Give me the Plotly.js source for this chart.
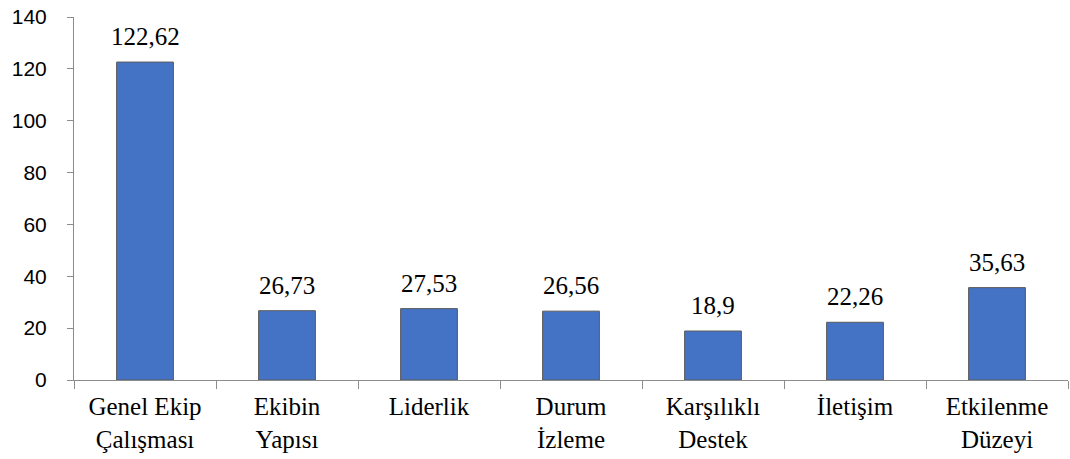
<!DOCTYPE html>
<html>
<head>
<meta charset="utf-8">
<script src="https://cdn.plot.ly/plotly-3.0.1.min.js"></script>
<style>
  html, body { margin: 0; padding: 0; background: #fff; }
  #chart { width: 1070px; height: 459px; }
</style>
</head>
<body>
<div id="chart"></div>
<script>
let categories = ['Genel Ekip<br>Çalışması', 'Ekibin<br>Yapısı', 'Liderlik', 'Durum<br>İzleme',
                  'Karşılıklı<br>Destek', 'İletişim', 'Etkilenme<br>Düzeyi'];
let values = [122.62, 26.73, 27.53, 26.56, 18.9, 22.26, 35.63];
let valueLabels = ['122,62', '26,73', '27,53', '26,56', '18,9', '22,26', '35,63'];
let yTicks = [0, 20, 40, 60, 80, 100, 120, 140];

let labelFont = 'Liberation Serif';
let tickFont = 'Liberation Sans';
let axisGray = '#8c8c8c';

var data = [{
    type: 'bar',
    x: categories,
    y: values,
    marker: { color: '#4472C4', line: { color: '#5b5b5b', width: 1 } },
    hoverinfo: 'none'
}];

// value labels above each bar
let labelNotes = [];
for (let i = 0; i < categories.length; i++) {
    labelNotes.push({
        x: categories[i],
        y: values[i],
        text: valueLabels[i],
        showarrow: false,
        yanchor: 'bottom',
        yshift: 10,
        font: { family: labelFont, size: 25, color: '#000' }
    });
}

var layout = {
    width: 1070,
    height: 459,
    margin: { l: 74, r: 2, t: 17, b: 79 },
    paper_bgcolor: '#fff',
    plot_bgcolor: '#fff',
    showlegend: false,
    bargap: 0.6,
    annotations: labelNotes,
    xaxis: {
        type: 'category',
        showline: true,
        linecolor: axisGray,
        linewidth: 1,
        ticks: 'outside',
        tickson: 'boundaries',
        ticklen: 8,
        tickcolor: axisGray,
        showgrid: false,
        ticklabelstandoff: 4,
        tickfont: { family: labelFont, size: 25, color: '#000' }
    },
    yaxis: {
        range: [0, 140],
        tickvals: yTicks,
        ticktext: yTicks.map(String),
        showline: true,
        linecolor: axisGray,
        linewidth: 1,
        ticks: 'outside',
        ticklen: 6,
        tickcolor: axisGray,
        showgrid: false,
        zeroline: false,
        ticklabelstandoff: 16,
        tickfont: { family: tickFont, size: 21, color: '#000' }
    }
};

Plotly.newPlot('chart', data, layout, { displayModeBar: false, staticPlot: true });
</script>
</body>
</html>
